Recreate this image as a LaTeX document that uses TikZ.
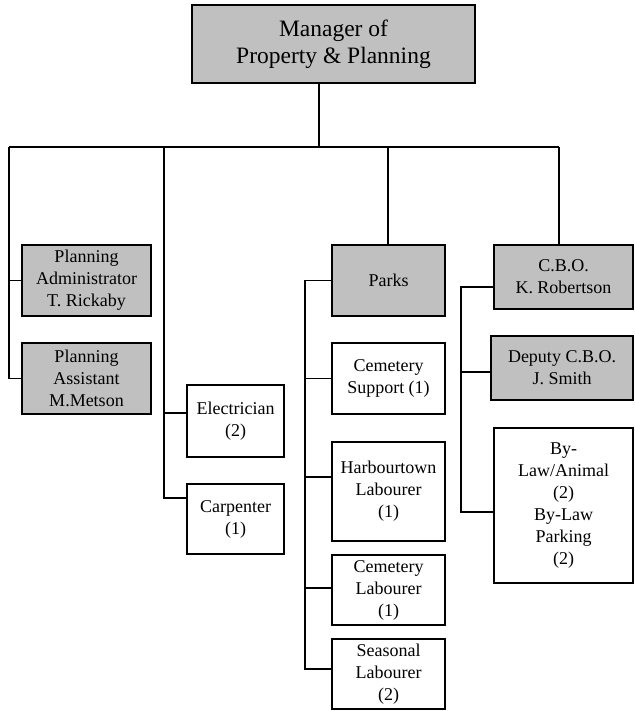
\documentclass[tikz,border=0pt]{standalone}
\usepackage{fontspec}
\setmainfont{Liberation Serif}
\usepackage{xcolor}
\usepackage{tikz}
\definecolor{boxgray}{RGB}{192,192,192}
\tikzset{
  box/.style={draw, line width=1.6pt, align=center, inner sep=0pt, font=\fontsize{18}{22}\selectfont},
  grey/.style={box, fill=boxgray},
  wire/.style={line width=1.1pt}
}

\begin{document}
\begin{tikzpicture}[x=1pt,y=-1pt]
      \useasboundingbox (0,0) rectangle (634,711);
      \node[grey, minimum width=283, minimum height=78, font=\fontsize{23.5}{27}\selectfont] (mgr) at (333.5,44) {Manager of\\Property \& Planning};
      \node[grey, minimum width=129, minimum height=71] (padm) at (86.5,280.5) {Planning\\Administrator\\T. Rickaby};
      \node[grey, minimum width=129, minimum height=71] (passt) at (86.5,378.5) {Planning\\Assistant\\M.Metson};
      \node[box, minimum width=97, minimum height=72] (elec) at (235.5,421) {Electrician\\(2)};
      \node[box, minimum width=97, minimum height=70] (carp) at (235.5,519) {Carpenter\\(1)};
      \node[grey, minimum width=113, minimum height=71] (parks) at (388.5,280.5) {Parks};
      \node[box, minimum width=113, minimum height=71] (cemsup) at (388.5,378.5) {Cemetery\\Support (1)};
      \node[box, minimum width=113, minimum height=99] (harb) at (388.5,491.5) {Harbourtown\\Labourer\\(1)};
      \node[box, minimum width=113, minimum height=70] (cemlab) at (388.5,590) {Cemetery\\Labourer\\(1)};
      \node[box, minimum width=113, minimum height=70] (seas) at (388.5,674) {Seasonal\\Labourer\\(2)};
      \node[grey, minimum width=139, minimum height=64] (cbo) at (563.5,277) {C.B.O.\\K. Robertson};
      \node[grey, minimum width=142, minimum height=64] (dep) at (562,368) {Deputy C.B.O.\\J. Smith};
      \node[box, minimum width=139, minimum height=155] (bylaw) at (563.5,505.5) {By-\\Law/Animal\\(2)\\By-Law\\Parking\\(2)};
        % bus points
      \coordinate (top) at (319,147);
      \coordinate (L) at (9,147);
      \coordinate (E) at (164,147);
      \coordinate (P) at (388,147);
      \coordinate (C) at (559,147);
      \coordinate (pb) at (305,0);
      \coordinate (cb) at (461,0);
      \draw[wire] (mgr.south -| top) -- (top);
      \draw[wire] (L) -- (C);
      \draw[wire] (L) |- (passt.west);
      \draw[wire] (padm.west) -- (padm.west -| L);
      \draw[wire] (E) |- (carp.west |- 0,498);
      \draw[wire] (elec.west |- 0,413) -- (E |- 0,413);
      \draw[wire] (P) -- (parks.north -| P);
      \draw[wire] (parks.west) -| (pb |- 0,669) -- (seas.west |- 0,669);
      \draw[wire] (cemsup.west) -- (cemsup.west -| pb);
      \draw[wire] (harb.west |- 0,477) -- (pb |- 0,477);
      \draw[wire] (cemlab.west |- 0,588) -- (pb |- 0,588);
      \draw[wire] (C) -- (cbo.north -| C);
      \draw[wire] (cbo.west |- 0,287) -| (cb |- 0,512) -- (bylaw.west |- 0,512);
      \draw[wire] (dep.west |- 0,372) -- (cb |- 0,372);
\end{tikzpicture}
\end{document}
